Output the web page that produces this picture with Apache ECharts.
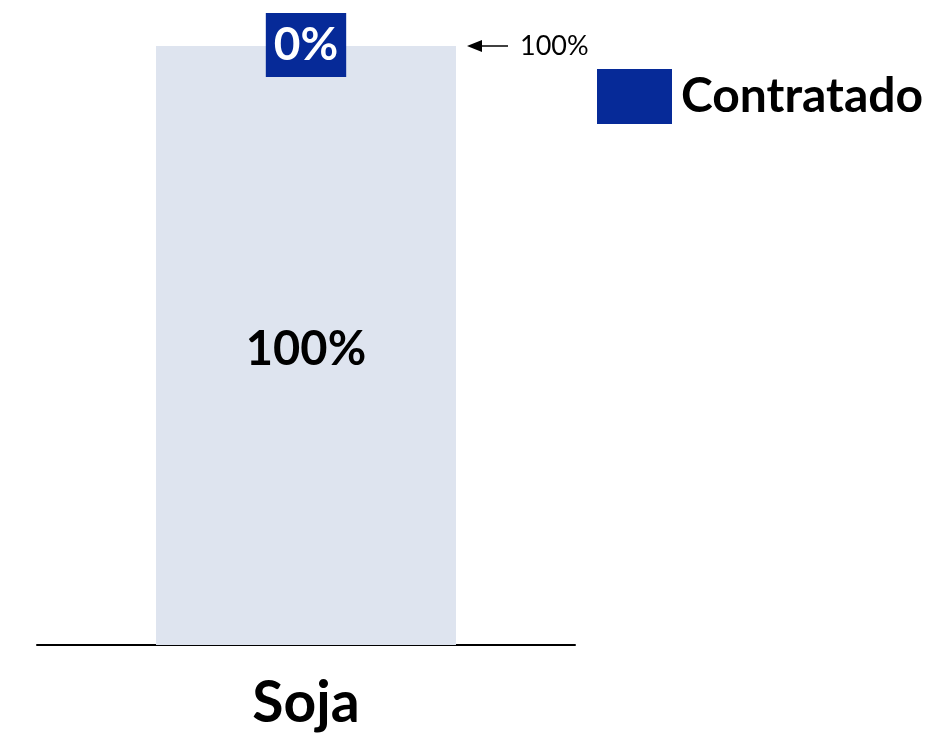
<!DOCTYPE html>
<html>
<head>
<meta charset="utf-8">
<script src="https://cdn.jsdelivr.net/npm/echarts@6/dist/echarts.min.js"></script>
<style>html,body{margin:0;padding:0;background:#fff}#c{width:938px;height:736px}</style>
</head>
<body>
<div id="c"></div>
<script>
const categories = ['Soja'];
const contratado = [0];
const restante = [100];
const totalLabel = '100%';

const chart = echarts.init(document.getElementById('c'));
const FONT = 'Lato';
chart.setOption({
  animation: false,
  grid: { left: 37, right: 363, top: 46, bottom: 91 },
  legend: {
    data: ['Contratado'],
    left: 592, top: 64,
    itemWidth: 75, itemHeight: 55,
    icon: 'rect',
    textStyle: { fontFamily: FONT, fontWeight: 'bold', fontSize: 48, color: '#000', padding: [0, 0, 0, 4] }
  },
  xAxis: {
    type: 'category', data: categories,
    axisLine: { lineStyle: { color: '#000', width: 2 } },
    axisTick: { show: false },
    axisLabel: { fontFamily: FONT, fontWeight: 'bold', fontSize: 57, color: '#000', margin: 30 }
  },
  yAxis: { type: 'value', min: 0, max: 100, show: false, splitLine: { show: false } },
  series: [
    {
      name: 'Restante', type: 'bar', stack: 'a', data: restante, barWidth: 300,
      itemStyle: { color: '#DEE4EF' },
      label: { show: true, position: 'inside', formatter: p => p.value + '%',
        fontFamily: FONT, fontWeight: 'bold', fontSize: 47, color: '#000', offset: [0, 4] }
    },
    {
      name: 'Contratado', type: 'bar', stack: 'a', data: contratado, barWidth: 300,
      itemStyle: { color: '#062A98' },
      label: { show: true, position: 'inside', formatter: p => p.value + '%',
        fontFamily: FONT, fontWeight: 'bold', fontSize: 46, color: '#fff',
        backgroundColor: '#062A98', padding: [11, 8, 7, 8], offset: [0, -1] }
    }
  ]
});

const total = restante[0] + contratado[0];
const pt = chart.convertToPixel({ gridIndex: 0 }, [categories[0], total]);
const barRight = pt[0] + 150;
chart.setOption({
  graphic: [
    { type: 'line', shape: { x1: barRight + 52, y1: pt[1], x2: barRight + 22, y2: pt[1] },
      style: { stroke: '#000', lineWidth: 1.5 } },
    { type: 'polygon', shape: { points: [[barRight + 11, pt[1]], [barRight + 26, pt[1] - 6], [barRight + 26, pt[1] + 6]] },
      style: { fill: '#000' } },
    { type: 'text', x: barRight + 64, y: pt[1], style: { text: totalLabel, fontFamily: FONT, fontSize: 27, fill: '#000', verticalAlign: 'middle' } }
  ]
});
</script>
</body>
</html>
